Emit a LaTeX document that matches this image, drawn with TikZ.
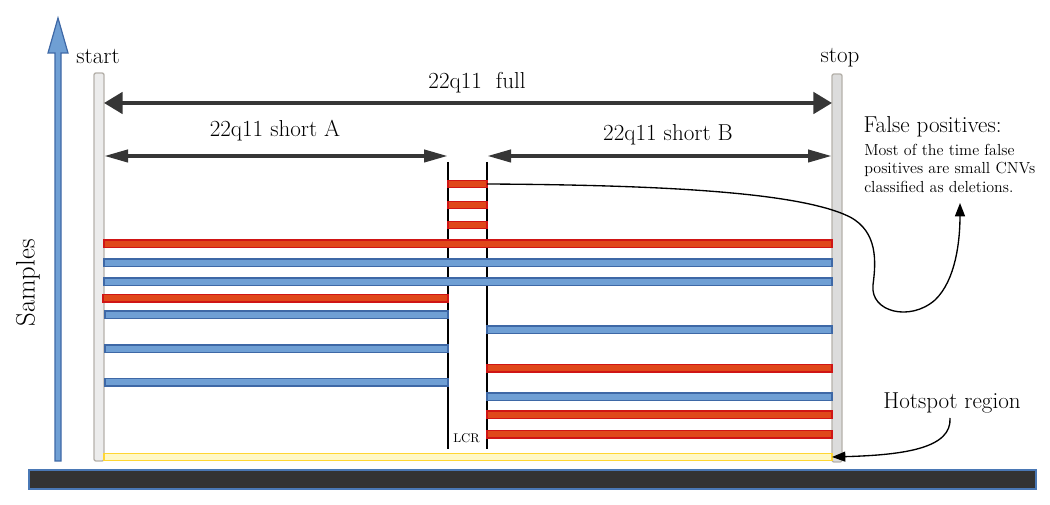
\documentclass[tikz,border=0pt]{standalone}
\usepackage{fontspec}
\usetikzlibrary{arrows.meta}
\definecolor{barred}{HTML}{E0481A}
\definecolor{barredline}{HTML}{D01515}
\definecolor{barblue}{HTML}{6F9FD4}
\definecolor{barblueline}{HTML}{3E68A6}
\definecolor{baryellow}{HTML}{FFF8C6}
\definecolor{baryellowline}{HTML}{FFD633}
\definecolor{darkarrow}{HTML}{363636}
\definecolor{postfill}{HTML}{ECECEC}
\definecolor{postfillb}{HTML}{DCDCDC}
\definecolor{postline}{HTML}{B5B1AA}
\definecolor{groundfill}{HTML}{333333}
\definecolor{groundline}{HTML}{4A78B5}
\begin{document}
\begin{tikzpicture}[x=0.75pt,y=-0.75pt,
  redbar/.style={fill=barred,draw=barredline,line width=1.1pt},
  bluebar/.style={fill=barblue,draw=barblueline,line width=1.1pt},
  yellowbar/.style={fill=baryellow,draw=baryellowline,line width=1.1pt},
  post/.style={draw=postline,line width=1pt,rounded corners=1.5pt,inner sep=0pt,outer sep=0pt,minimum width=7.5pt,minimum height=291pt},
  lbl/.style={font=\fontsize{17.3}{20}\selectfont,inner sep=1pt},
  bigarrow/.style={draw=darkarrow,line width=3pt,{Triangle[length=14pt,width=16pt]}-{Triangle[length=14pt,width=16pt]}},
  slimarrow/.style={draw=darkarrow,line width=3pt,{Triangle[length=18pt,width=9pt]}-{Triangle[length=18pt,width=9pt]}},
  lcrline/.style={draw=black,line width=1.5pt},
  note/.style={draw=black,line width=1pt,-{Triangle[length=10pt,width=7.5pt]}},
]
\useasboundingbox (0,0) rectangle (1050,505);

% Samples axis
\draw[fill=barblue,draw=barblueline,line width=0.9pt]
  (55,461) -- (55,53) -- (48,53) -- (58,18) -- (68,53) -- (61,53) -- (61,461) -- cycle;
\node[rotate=90,font=\fontsize{20}{22}\selectfont] (samples) at (28,283) {Samples};

% ground
\draw[fill=groundfill,draw=groundline,line width=0.9pt] (29,470) rectangle (1036,489);

% posts
\node[post,fill=postfill] (startpost) at (99,267) {};
\node[post,fill=postfillb] (stoppost) at (837,268) {};
\node[lbl] (start) at (98,57) {start};
\node[lbl] (stop) at (840,58) {stop};

% LCR
\coordinate (lcrAtop) at (448,162);
\coordinate (lcrAbot) at (448,449);
\coordinate (lcrBtop) at (487,162);
\coordinate (lcrBbot) at (487,449);
\draw[lcrline] (lcrAtop) -- (lcrAbot);
\draw[lcrline] (lcrBtop) -- (lcrBbot);
\node[font=\fontsize{9.5}{11}\selectfont] (lcr) at (466.5,438) {LCR};

% range arrows
\coordinate (fullL) at (104,103);
\coordinate (fullR) at (832,103);
\coordinate (shortAL) at (104,156);
\coordinate (shortAR) at (448,156);
\coordinate (shortBL) at (487,156);
\coordinate (shortBR) at (832,156);
\draw[bigarrow] (fullL) -- (fullR);
\draw[slimarrow] (shortAL) -- (shortAR);
\draw[slimarrow] (shortBL) -- (shortBR);
\node[lbl] (full) at (477,83) {22q11\ \ full};
\node[lbl] (shortA) at (275,131) {22q11 short A};
\node[lbl] (shortB) at (668,135) {22q11 short B};

% small CNVs in the LCR
\node[redbar,inner sep=0pt,outer sep=0pt,minimum width=29.25pt,minimum height=5.5pt] (cnv1) at (467.5,184) {};
\draw[redbar] (448,201.5) rectangle (487,208.5);
\draw[redbar] (448,221.5) rectangle (487,228.5);

% long bars
\draw[redbar]  (104,240) rectangle (832,247.5);
\draw[bluebar] (104,259) rectangle (832,266.5);
\draw[bluebar] (104,278) rectangle (832,285.5);
\draw[redbar]  (103,294.5) rectangle (448,302);
\draw[bluebar] (105,311) rectangle (448,318.5);
\draw[bluebar] (105,345) rectangle (448,352.5);
\draw[bluebar] (105,378.5) rectangle (448,386);
\draw[bluebar] (487,326) rectangle (832,333.5);
\draw[redbar]  (487,364.5) rectangle (832,372);
\draw[bluebar] (487,393) rectangle (832,400.5);
\draw[redbar]  (487,411) rectangle (832,418.5);
\draw[redbar]  (487,430.5) rectangle (832,438);
\node[yellowbar,inner sep=0pt,outer sep=0pt,minimum width=546pt,minimum height=5.5pt] (hotspot) at (468,457) {};

% false positives note
\node[lbl,anchor=west] (fptitle) at (862,127) {False positives:};
\node[anchor=north west,align=left,inner sep=0pt,font=\fontsize{12}{13.8}\selectfont] (fpbody) at (864,144)
  {Most of the time false\\positives are small CNVs\\classified as deletions.};
\coordinate (fptip) at (960,203);
\draw[note] (cnv1.east) .. controls (660,185) and (800,192) .. (850,217)
  .. controls (878,232) and (876,262) .. (873,285)
  .. controls (870,312) and (910,322) .. (935,300)
  .. controls (956,280) and (960,240) .. (fptip);

% hotspot note
\node[lbl] (hslabel) at (952,403) {Hotspot region};
\draw[note] (950,418) .. controls (952,448) and (905,455) .. (hotspot.east);
\end{tikzpicture}
\end{document}
